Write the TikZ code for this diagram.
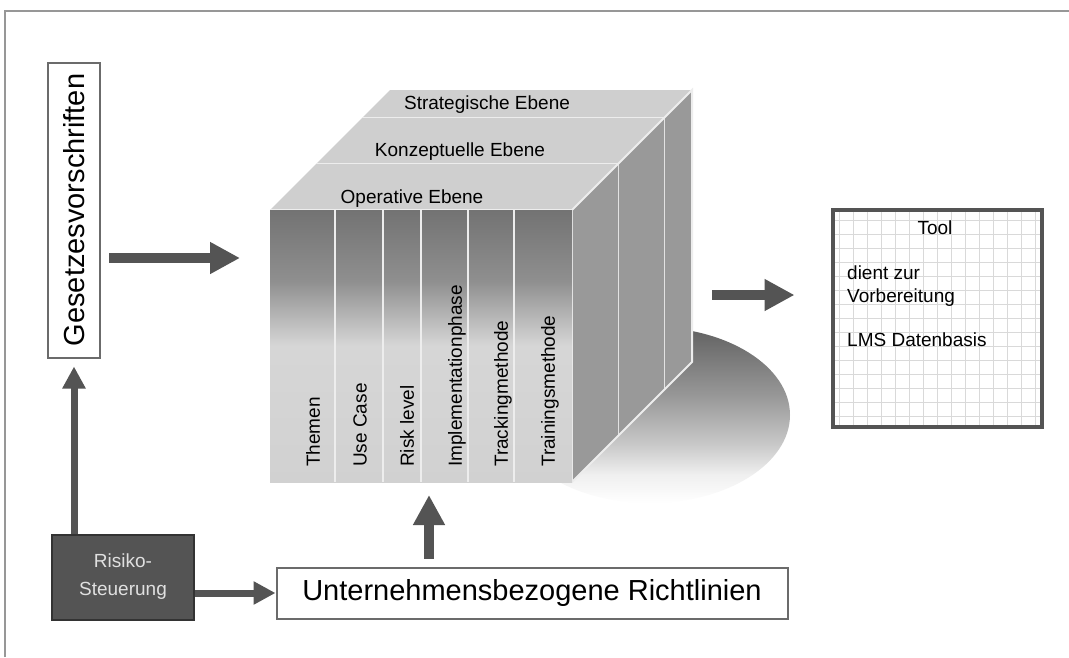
\documentclass[tikz,border=0pt]{standalone}
\usepackage{fontspec}
\setmainfont{Liberation Sans}
\usepackage{graphicx}
\usetikzlibrary{arrows.meta}
\definecolor{arrgray}{gray}{0.33}
\definecolor{linegray}{gray}{0.42}
\definecolor{topgray}{gray}{0.81}
\definecolor{sidegray}{gray}{0.6}
\definecolor{seamgray}{gray}{0.93}
\pgfdeclareverticalshading{colshade}{100bp}{color(0bp)=(black!18); color(25bp)=(black!18);
  color(50bp)=(black!16); color(62bp)=(black!44); color(75bp)=(black!55); color(100bp)=(black!55)}
\pgfdeclareverticalshading{shadowshade}{100bp}{color(0bp)=(white); color(25bp)=(white);
  color(33bp)=(black!6); color(42bp)=(black!22); color(55bp)=(black!40); color(75bp)=(black!62);
  color(100bp)=(black!62)}
\newcommand\smallfont{\fontsize{19}{23}\selectfont}
\newcommand\bigfont{\fontsize{29}{33}\selectfont}
\newcommand\riskfont{\fontsize{19}{28}\selectfont}
\tikzstyle{bigarr}=[-{Triangle[length=30pt,width=30pt]},line width=10pt,draw=arrgray]
\tikzstyle{midarr}=[-{Triangle[length=22pt,width=22pt]},line width=7pt,draw=arrgray]
\tikzstyle{box}=[draw=linegray,line width=2pt,fill=white,inner sep=0pt,font=\bigfont]
\tikzstyle{seam}=[draw=seamgray,line width=2pt]
\tikzstyle{collabel}=[rotate=90,anchor=west,inner sep=0pt,font=\smallfont]
\tikzstyle{lbl}=[inner sep=0pt,font=\smallfont]

\begin{document}
\begin{tikzpicture}[x=1pt,y=-1pt]
  \useasboundingbox (0,0) rectangle (1069,657);
  \fill[white] (0,0) rectangle (1069,657);
  \draw[linegray!70,line width=1.5pt] (5,657) -- (5,11) -- (1069,11);

  % shadow under the cube
  \shade[shading=shadowshade] (650,415) ellipse [x radius=140,y radius=88];

  \foreach \a/\b in {92/120, 46/92, 0/46} {
    \fill[topgray] (270+\a,210-\a) -- (572+\a,210-\a) -- (572+\b,210-\b) -- (270+\b,210-\b) -- cycle;
    \fill[sidegray] (572+\a,210-\a) -- (572+\b,210-\b) -- (572+\b,482-\b) -- (572+\a,482-\a) -- cycle;
    \draw[seam] (270+\a,210-\a) -- (572+\a,210-\a) -- (572+\a,482-\a);
  }
  \draw[seam] (572,210) -- (692,90) -- (692,362) -- (572,482);
  \shade[shading=colshade] (270,210) rectangle (572,482);
  \foreach \x in {335,383,421,468,514}
    \draw[seam] (\x,210) -- (\x,482);

  \foreach \x/\t [count=\i] in {313/Themen, 360/Use Case, 407/Risk level,
      457/Implementationphase, 503/Trackingmethode, 550/Trainingsmethode}
    \node[collabel] (col\i) at (\x,467) {\t};

  \node[lbl] (strat) at (487,105) {Strategische Ebene};
  \node[lbl] (konz) at (460,152) {Konzeptuelle Ebene};
  \node[lbl] (oper) at (412,199) {Operative Ebene};

  \node[box,minimum width=52pt,minimum height=295pt] (gesetz) at (74,210)
    {\rotatebox{90}{Gesetzesvorschriften}};
  \node[box,fill=arrgray,draw=black!80,text=black!12,minimum width=142pt,minimum height=85pt,
    align=center,font=\riskfont] (risiko) at (123,577) {Risiko-\\Steuerung};
  \node[box,minimum width=511pt,minimum height=51pt] (richt) at (532,593)
    {Unternehmensbezogene Richtlinien};
  \node[box,line width=4pt,draw=arrgray,minimum width=209pt,minimum height=217pt,
    path picture={\draw[black!15,line width=0.6pt] (path picture bounding box.south west)
      grid[step=14pt] (path picture bounding box.north east);}] (tool) at (937,318) {};

  \node[lbl] (tooltitle) at (935,228) {Tool};
  \node[lbl,anchor=west,align=left] (tooluse) at (847,286) {dient zur\\Vorbereitung};
  \node[lbl,anchor=west] (lms) at (847,340) {LMS Datenbasis};

  \coordinate (cubein) at (240,258);
  \coordinate (cubeup) at (429,495);
  \coordinate (cubeout) at (712,295);
  \draw[bigarr,shorten <=8pt] (gesetz.east |- cubein) -- (cubein);
  \draw[midarr,shorten >=8pt] (gesetz.south |- risiko.north) -- (gesetz.south);
  \draw[midarr] (risiko.east |- richt.west) -- (richt.west);
  \draw[bigarr,shorten <=8pt] (richt.north -| cubeup) -- (cubeup);
  \draw[bigarr,shorten >=36pt] (cubeout) -- (tool.west |- cubeout);
\end{tikzpicture}
\end{document}
